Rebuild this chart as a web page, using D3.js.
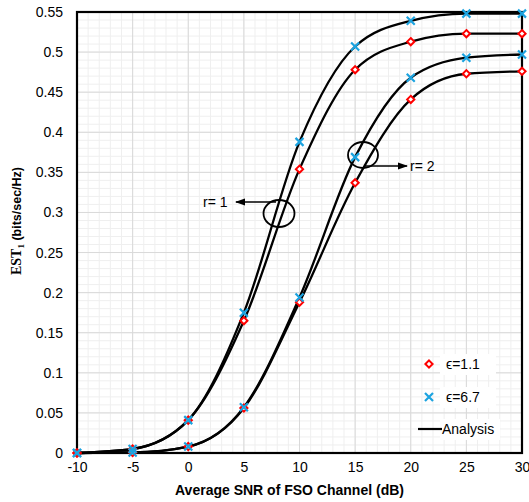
<!DOCTYPE html>
<html>
<head>
<meta charset="utf-8">
<script src="https://cdn.jsdelivr.net/npm/d3@7"></script>
<style>
  body { margin: 0; background: #fff; }
  text { font-family: 'Liberation Sans', Arial, sans-serif; }
</style>
</head>
<body>
<svg id="chart" width="529" height="502"></svg>
<script>
const snr = [-10, -5, 0, 5, 10, 15, 20, 25, 30]

// r = 1
const r1Eps67 = [0, 0.005, 0.041, 0.175, 0.388, 0.507, 0.539, 0.548, 0.548]
const r1Eps11 = [0, 0.005, 0.041, 0.165, 0.354, 0.478, 0.513, 0.523, 0.523]
// r = 2
const r2Eps67 = [0, 0.0006, 0.008, 0.057, 0.194, 0.369, 0.468, 0.493, 0.497]
const r2Eps11 = [0, 0.0006, 0.008, 0.056, 0.188, 0.337, 0.441, 0.473, 0.476]

const xTicks = [-10, -5, 0, 5, 10, 15, 20, 25, 30]
const yTicks = [0, 0.05, 0.1, 0.15, 0.2, 0.25, 0.3, 0.35, 0.4, 0.45, 0.5, 0.55]

const svg = d3.select('#chart')

const margin = { top: 12, right: 7, bottom: 49, left: 77 }
const width = 529 - margin.left - margin.right
const height = 502 - margin.top - margin.bottom

const x = d3.scaleLinear().domain([-10, 30]).range([0, width])
const y = d3.scaleLinear().domain([0, 0.55]).range([height, 0])

const g = svg.append('g')
  .attr('transform', 'translate(' + margin.left + ',' + margin.top + ')')

// minor grid
g.append('g').selectAll('line')
  .data(d3.range(-10, 31, 1))
  .enter().append('line')
  .attr('x1', d => x(d)).attr('x2', d => x(d))
  .attr('y1', 0).attr('y2', height)
  .attr('stroke', '#efefef')
g.append('g').selectAll('line')
  .data(d3.range(0, 56, 1).map(d => d / 100))
  .enter().append('line')
  .attr('y1', d => y(d)).attr('y2', d => y(d))
  .attr('x1', 0).attr('x2', width)
  .attr('stroke', '#efefef')

// major grid
g.append('g').selectAll('line')
  .data(xTicks)
  .enter().append('line')
  .attr('x1', d => x(d)).attr('x2', d => x(d))
  .attr('y1', 0).attr('y2', height)
  .attr('stroke', '#d9d9d9')
g.append('g').selectAll('line')
  .data(yTicks)
  .enter().append('line')
  .attr('y1', d => y(d)).attr('y2', d => y(d))
  .attr('x1', 0).attr('x2', width)
  .attr('stroke', '#d9d9d9')

// axes
const fmt = d => (d === 0 ? '0' : String(+d.toFixed(2)))
const xAxis = g.append('g')
  .attr('transform', 'translate(0,' + height + ')')
  .call(d3.axisBottom(x).tickValues(xTicks).tickSize(0).tickPadding(9).tickFormat(d => d))
const yAxis = g.append('g')
  .call(d3.axisLeft(y).tickValues(yTicks).tickSize(0).tickPadding(14).tickFormat(fmt))
;[xAxis, yAxis].forEach(a => {
  a.select('.domain').remove()
  a.selectAll('text')
    .attr('font-size', 14)
    .attr('fill', '#000')
    .style('font-family', "'Liberation Sans', Arial, sans-serif")
})

// frame
g.append('rect')
  .attr('width', width).attr('height', height)
  .attr('fill', 'none').attr('stroke', '#000').attr('stroke-width', 2.2)

// curves
const series = [
  { vals: r1Eps67, eps: '6.7' },
  { vals: r1Eps11, eps: '1.1' },
  { vals: r2Eps67, eps: '6.7' },
  { vals: r2Eps11, eps: '1.1' }
]

const line = d3.line()
  .x((d, i) => x(snr[i]))
  .y(d => y(d))
  .curve(d3.curveMonotoneX)

g.append('g').selectAll('path')
  .data(series)
  .enter().append('path')
  .attr('d', d => line(d.vals))
  .attr('fill', 'none')
  .attr('stroke', '#000')
  .attr('stroke-width', 2.3)

const blue = '#1ba3e0'
const red = '#ff0000'

function drawDiamond (sel, cx, cy) {
  sel.append('path')
    .attr('d', 'M' + cx + ',' + (cy - 3.6) + 'L' + (cx + 3.6) + ',' + cy +
      'L' + cx + ',' + (cy + 3.6) + 'L' + (cx - 3.6) + ',' + cy + 'Z')
    .attr('fill', '#fff')
    .attr('stroke', red)
    .attr('stroke-width', 2)
}
function drawCross (sel, cx, cy) {
  const s = 4
  sel.append('path')
    .attr('d', 'M' + (cx - s) + ',' + (cy - s) + 'L' + (cx + s) + ',' + (cy + s) +
      'M' + (cx - s) + ',' + (cy + s) + 'L' + (cx + s) + ',' + (cy - s))
    .attr('stroke', blue)
    .attr('stroke-width', 2.2)
}

const marks = g.append('g')
series.filter(s => s.eps === '1.1').forEach(s => {
  s.vals.forEach((v, i) => drawDiamond(marks, x(snr[i]), y(v)))
})
series.filter(s => s.eps === '6.7').forEach(s => {
  s.vals.forEach((v, i) => drawCross(marks, x(snr[i]), y(v)))
})

// annotations (page coordinates)
svg.append('defs').append('marker')
  .attr('id', 'arr')
  .attr('viewBox', '0 0 10 10')
  .attr('refX', 9).attr('refY', 5)
  .attr('markerWidth', 7).attr('markerHeight', 7)
  .attr('orient', 'auto-start-reverse')
  .append('path')
  .attr('d', 'M0,1.5L10,5L0,8.5Z')
  .attr('fill', '#000')

const ann = svg.append('g')
ann.append('ellipse')
  .attr('cx', 279).attr('cy', 213.5).attr('rx', 15.5).attr('ry', 13.5)
  .attr('fill', 'none').attr('stroke', '#000').attr('stroke-width', 1.8)
ann.append('line')
  .attr('x1', 276).attr('y1', 202).attr('x2', 236).attr('y2', 202)
  .attr('stroke', '#000').attr('stroke-width', 1.5)
  .attr('marker-end', 'url(#arr)')
ann.append('text')
  .attr('x', 203).attr('y', 207)
  .attr('font-size', 14)
  .text('r= 1')

ann.append('ellipse')
  .attr('cx', 363).attr('cy', 155).attr('rx', 15).attr('ry', 13)
  .attr('fill', 'none').attr('stroke', '#000').attr('stroke-width', 1.8)
ann.append('line')
  .attr('x1', 364).attr('y1', 166).attr('x2', 407).attr('y2', 166)
  .attr('stroke', '#000').attr('stroke-width', 1.5)
  .attr('marker-end', 'url(#arr)')
ann.append('text')
  .attr('x', 410).attr('y', 171)
  .attr('font-size', 14)
  .text('r= 2')

// legend
const leg = svg.append('g')
leg.append('rect').attr('x', 440).attr('y', 354).attr('width', 56).attr('height', 21).attr('fill', '#fff')
leg.append('rect').attr('x', 440).attr('y', 387).attr('width', 56).attr('height', 21).attr('fill', '#fff')
leg.append('rect').attr('x', 440).attr('y', 419).attr('width', 60).attr('height', 21).attr('fill', '#fff')
drawDiamond(leg, 429, 364)
leg.append('text').attr('x', 446).attr('y', 369).attr('font-size', 14).text('\u03f5=1.1')
drawCross(leg, 429, 397)
leg.append('text').attr('x', 446).attr('y', 402).attr('font-size', 14).text('\u03f5=6.7')
leg.append('line')
  .attr('x1', 418).attr('x2', 442).attr('y1', 429).attr('y2', 429)
  .attr('stroke', '#000').attr('stroke-width', 2.2)
leg.append('text').attr('x', 442).attr('y', 434).attr('font-size', 14).text('Analysis')

// axis titles
svg.append('text')
  .attr('x', margin.left + width / 2 - 10).attr('y', 495)
  .attr('text-anchor', 'middle')
  .attr('font-size', 14).attr('font-weight', 'bold')
  .text('Average SNR of FSO Channel (dB)')

const yt = svg.append('text')
  .attr('transform', 'translate(21,221) rotate(-90)')
  .attr('text-anchor', 'middle')
  .attr('font-size', 14).attr('font-weight', 'bold')
yt.append('tspan').style('font-family', "'Liberation Serif', 'Times New Roman', serif").text('EST')
yt.append('tspan').style('font-family', "'Liberation Serif', 'Times New Roman', serif")
  .attr('font-size', 9).attr('dy', 3).text('1')
yt.append('tspan').attr('dy', -3).attr('font-size', 12.5).text(' (bits/sec/Hz)')
</script>
</body>
</html>
